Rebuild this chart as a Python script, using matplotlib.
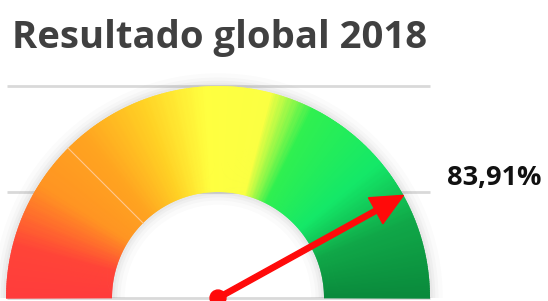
import numpy as np
import matplotlib
matplotlib.use("Agg")
import matplotlib.pyplot as plt
from matplotlib.patches import Wedge, Circle, FancyArrow
from matplotlib.colors import LinearSegmentedColormap

title = "Resultado global 2018"
value = 83.91
value_label = "83,91%"
gridlines = [0, 1, 2]
segment_boundaries = [25]

# gradient stops (fraction of gauge from left, colour)
stops = [(0.0, "#ff3c3c"), (0.08, "#ff4438"), (0.18, "#ff9422"), (0.28, "#ffa420"),
         (0.38, "#ffd024"), (0.48, "#ffff40"), (0.58, "#fbff42"), (0.65, "#30f050"),
         (0.78, "#14e868"), (0.88, "#10a848"), (1.0, "#0a8a3c")]
cmap = LinearSegmentedColormap.from_list("gauge", stops)

W, H, DPI = 548, 301, 100
fig = plt.figure(figsize=(W / DPI, H / DPI), dpi=DPI)
ax = fig.add_axes([0, 0, 1, 1])
ppu = 106.0
cx_px, cy_px = 218, 298
ax.set_xlim(-cx_px / ppu, (W - cx_px) / ppu)
ax.set_ylim(-(H - cy_px) / ppu, cy_px / ppu)
ax.axis("off")

R_out, R_in = 2.0, 1.0

# grid lines
for g in gridlines:
    ax.plot([-1.99, 2.0], [g, g], color="#d9d9d9", lw=2, zorder=1, solid_capstyle="butt")

# soft shadow
for i, (dr, a) in enumerate([(0.12, 0.03), (0.08, 0.04), (0.05, 0.05), (0.025, 0.06)]):
    ax.add_patch(Wedge((0, 0), R_out + dr, 0, 180, width=R_out - R_in + 2 * dr,
                       facecolor="#808080", edgecolor="none", alpha=a, zorder=2))

# gradient arc
n = 360
for k in range(n):
    f0, f1 = k / n, (k + 1) / n
    th1 = 180 * (1 - f0)
    th0 = 180 * (1 - f1)
    ax.add_patch(Wedge((0, 0), R_out, th0 - 0.2, th1 + 0.2, width=R_out - R_in,
                       facecolor=cmap((f0 + f1) / 2), edgecolor="none", zorder=3))

# segment boundaries
for b in segment_boundaries:
    th = np.deg2rad(180 * (1 - b / 100))
    ax.plot([R_in * np.cos(th), R_out * np.cos(th)], [R_in * np.sin(th), R_out * np.sin(th)],
            color="#ffc890", lw=0.8, zorder=4)

# arrow
th = np.deg2rad(180 * (1 - value / 100))
ax.add_patch(FancyArrow(0, 0, R_out * np.cos(th), R_out * np.sin(th), width=0.05,
                        head_width=0.28, head_length=0.3, length_includes_head=True,
                        color="#ff0a0a", zorder=6))
ax.add_patch(Circle((0, 0), 0.075, color="#ff0a0a", zorder=7))

ax.text((447 - cx_px) / ppu, (cy_px - 178) / ppu, value_label, fontsize=19.5,
        fontweight="bold", color="#111111", va="center", ha="left",
        family="Open Sans", zorder=8)

fig.text(12 / W, 1 - 38 / H, title, fontsize=27.5, fontweight="bold", color="#404040",
         va="center", ha="left", family="Open Sans")

fig.savefig("out.png", dpi=DPI)
